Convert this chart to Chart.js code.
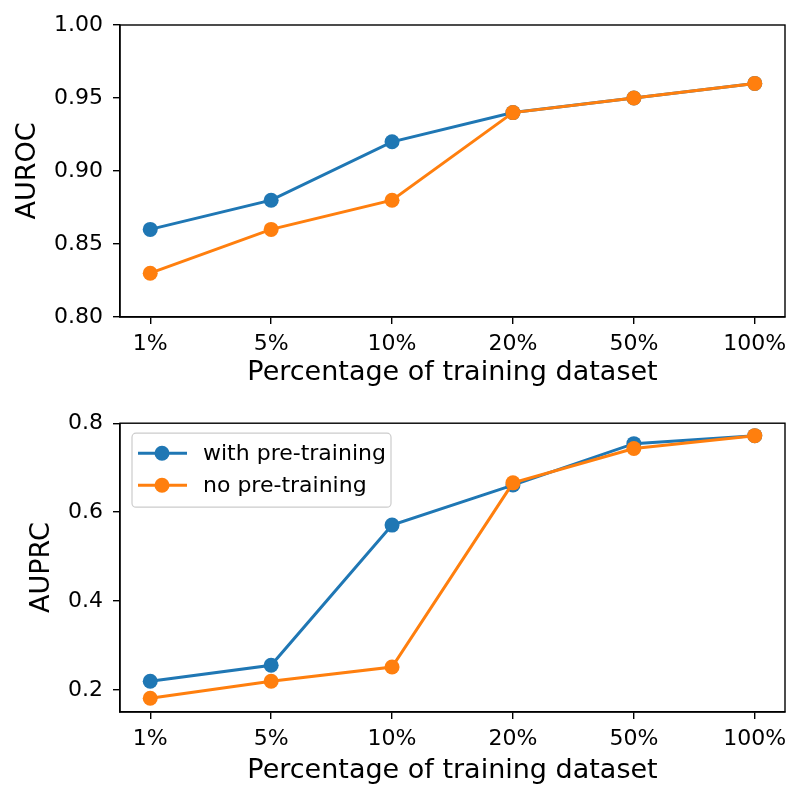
<!DOCTYPE html>
<html>
<head>
<meta charset="utf-8">
<script src="https://cdn.jsdelivr.net/npm/chart.js@4"></script>
<style>
  html, body { margin: 0; padding: 0; background: #fff; }
  .panel { position: absolute; left: 0; width: 800px; }
  #top { top: 0; height: 400px; }
  #bottom { top: 400px; height: 401px; }
</style>
</head>
<body>
<div class="panel" id="top"><canvas id="aurocChart"></canvas></div>
<div class="panel" id="bottom"><canvas id="auprcChart"></canvas></div>
<script>
const pctLabels = ['1%', '5%', '10%', '20%', '50%', '100%'];
const seriesNames = ['with pre-training', 'no pre-training'];
const seriesColors = ['#1f77b4', '#ff7f0e'];

const aurocWith = [0.86, 0.88, 0.92, 0.94, 0.95, 0.96];
const aurocNo = [0.83, 0.86, 0.88, 0.94, 0.95, 0.96];
const auprcWith = [0.22, 0.256, 0.571, 0.661, 0.754, 0.772];
const auprcNo = [0.182, 0.22, 0.252, 0.666, 0.743, 0.772];

const aurocTicks = [0.80, 0.85, 0.90, 0.95, 1.00];
const auprcTicks = [0.2, 0.4, 0.6, 0.8];

Chart.defaults.font.family = "'DejaVu Sans', sans-serif";
Chart.defaults.color = '#000';

// frame around the plot area (matplotlib spines)
const boxPlugin = {
  id: 'box',
  afterDraw(chart) {
    const { ctx, chartArea: a } = chart;
    ctx.save();
    ctx.strokeStyle = '#000';
    ctx.lineWidth = 1.4;
    ctx.strokeRect(a.left, a.top, a.right - a.left, a.bottom - a.top);
    ctx.restore();
  }
};

// legend box with line + marker, like matplotlib
const mplLegend = {
  id: 'mplLegend',
  afterDraw(chart, args, opts) {
    if (!opts.show) return;
    const { ctx, chartArea: a } = chart;
    const x0 = a.left + 12, y0 = a.top + 10, w = 259, h = 74;
    ctx.save();
    ctx.fillStyle = 'rgba(255,255,255,0.8)';
    ctx.strokeStyle = '#cccccc';
    ctx.lineWidth = 1.2;
    ctx.beginPath();
    ctx.roundRect(x0, y0, w, h, 4);
    ctx.fill();
    ctx.stroke();
    ctx.font = "22px 'DejaVu Sans'";
    ctx.textBaseline = 'middle';
    seriesNames.forEach((name, i) => {
      const y = y0 + 20 + i * 32;
      ctx.strokeStyle = seriesColors[i];
      ctx.lineWidth = 3;
      ctx.beginPath();
      ctx.moveTo(x0 + 6, y);
      ctx.lineTo(x0 + 55, y);
      ctx.stroke();
      ctx.fillStyle = seriesColors[i];
      ctx.beginPath();
      ctx.arc(x0 + 30, y, 7.5, 0, Math.PI * 2);
      ctx.fill();
      ctx.fillStyle = '#000';
      ctx.fillText(name, x0 + 71, y + 1);
    });
    ctx.restore();
  }
};

function makeData(a, b) {
  return [a, b].map((vals, i) => ({
    label: seriesNames[i],
    data: vals.map((v, k) => ({ x: k, y: v })),
    borderColor: seriesColors[i],
    backgroundColor: seriesColors[i],
    borderWidth: 3,
    pointRadius: 7.5,
    pointBorderWidth: 0,
    pointHoverRadius: 7.5,
    order: i === 0 ? 1 : 0
  }));
}

function makeChart(id, a, b, yMin, yMax, yTicks, yLabel, opt) {
  return new Chart(document.getElementById(id), {
    type: 'line',
    data: { datasets: makeData(a, b) },
    options: {
      responsive: true,
      maintainAspectRatio: false,
      animation: false,
      layout: { padding: { top: opt.padTop, right: 15, left: 0, bottom: 0 } },
      plugins: {
        legend: { display: false },
        tooltip: { enabled: false },
        mplLegend: { show: opt.legend }
      },
      scales: {
        x: {
          type: 'linear',
          min: -0.25,
          max: 5.25,
          afterBuildTicks: s => { s.ticks = pctLabels.map((_, i) => ({ value: i })); },
          afterFit: s => { s.height = opt.xHeight; },
          ticks: { font: { size: 22 }, padding: 7, maxRotation: 0, callback: v => pctLabels[v] },
          grid: { display: true, drawOnChartArea: false, drawTicks: true, tickLength: 7, color: '#000', lineWidth: 1.4 },
          border: { display: true, color: '#000', width: 1.4 },
          title: { display: true, text: 'Percentage of training dataset', font: { size: 27 }, padding: { top: 0, bottom: opt.xTitlePad } }
        },
        y: {
          min: yMin,
          max: yMax,
          afterBuildTicks: s => { s.ticks = yTicks.map(v => ({ value: v })); },
          afterFit: s => { s.width = 120; },
          ticks: { font: { size: 22 }, padding: 10, callback: v => v.toFixed(opt.digits) },
          grid: { display: true, drawOnChartArea: false, drawTicks: true, tickLength: 7, color: '#000', lineWidth: 1.4 },
          border: { display: true, color: '#000', width: 1.4 },
          title: { display: true, text: yLabel, font: { size: 27 }, padding: { top: opt.yTitlePad, bottom: 0 } }
        }
      }
    },
    plugins: [boxPlugin, mplLegend]
  });
}

makeChart('aurocChart', aurocWith, aurocNo, 0.8, 1.0, aurocTicks, 'AUROC',
  { padTop: 25, xHeight: 83, xTitlePad: 11, yTitlePad: 12, digits: 2, legend: false });
makeChart('auprcChart', auprcWith, auprcNo, 0.151, 0.8, auprcTicks, 'AUPRC',
  { padTop: 23, xHeight: 89, xTitlePad: 14, yTitlePad: 26, digits: 1, legend: true });
</script>
</body>
</html>
